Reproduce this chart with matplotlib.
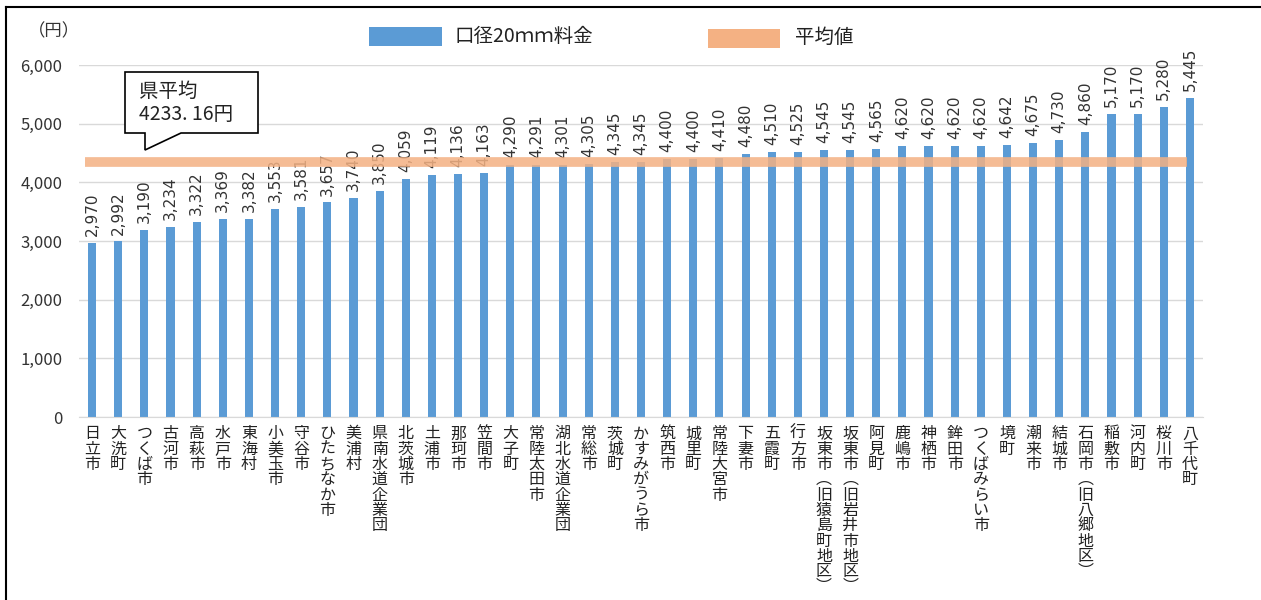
import matplotlib
matplotlib.use("Agg")
import matplotlib.pyplot as plt
from matplotlib.patches import Polygon, Rectangle
from matplotlib.lines import Line2D
import numpy as np

plt.rcParams['font.family'] = ['Noto Sans CJK JP', 'DejaVu Sans']

categories = ["日立市", "大洗町", "つくば市", "古河市", "高萩市", "水戸市", "東海村", "小美玉市",
              "守谷市", "ひたちなか市", "美浦村", "県南水道企業団", "北茨城市", "土浦市", "那珂市",
              "笠間市", "大子町", "常陸太田市", "湖北水道企業団", "常総市", "茨城町", "かすみがうら市",
              "筑西市", "城里町", "常陸大宮市", "下妻市", "五霞町", "行方市", "坂東市（旧猿島町地区）",
              "坂東市（旧岩井市地区）", "阿見町", "鹿嶋市", "神栖市", "鉾田市", "つくばみらい市", "境町",
              "潮来市", "結城市", "石岡市（旧八郷地区）", "稲敷市", "河内町", "桜川市", "八千代町"]
values = [2970, 2992, 3190, 3234, 3322, 3369, 3382, 3553, 3581, 3657, 3740, 3850, 4059, 4119,
          4136, 4163, 4290, 4291, 4301, 4305, 4345, 4345, 4400, 4400, 4410, 4480, 4510, 4525,
          4545, 4545, 4565, 4620, 4620, 4620, 4620, 4642, 4675, 4730, 4860, 5170, 5170, 5280, 5445]
average_line = 4340          # position of the drawn average line
average_label = "県平均\n4233. 16円"
series_names = ["口径20ｍｍ料金", "平均値"]
yticks = [0, 1000, 2000, 3000, 4000, 5000, 6000]

W, H = 1261, 600
fig = plt.figure(figsize=(W / 100, H / 100), dpi=100)
fig.patch.set_facecolor("white")

def fx(px):
    return px / W

def fy(py):
    return 1 - py / H

ax = fig.add_axes([fx(79), fy(417), fx(1203) - fx(79), fy(65) - fy(417)])
x = np.arange(len(categories))
blue = "#5b9bd5"
orange = "#f4b183"

ax.bar(x, values, width=0.31, color=blue, zorder=2)
ax.set_xlim(-0.5, len(categories) - 0.5)
ax.set_ylim(0, 6000)
ax.set_yticks(yticks)
ax.set_yticklabels([f"{v:,}" for v in yticks], fontsize=12, color="#333333")
ax.yaxis.grid(True, color="#d9d9d9", linewidth=1, zorder=0)
ax.set_axisbelow(True)
for s in ["top", "right", "left"]:
    ax.spines[s].set_visible(False)
ax.spines["bottom"].set_color("#d9d9d9")
ax.tick_params(axis="y", length=0, pad=12)
ax.tick_params(axis="x", length=0, pad=6)

def vert(s):
    s = s.replace("（", "\ufe35").replace("）", "\ufe36")
    return "\n".join(list(s))

ax.set_xticks(x)
ax.set_xticklabels([vert(c) for c in categories], fontsize=11.5, linespacing=0.87,
                   va="top", ha="center", color="#222222")

for xi, v in zip(x, values):
    ax.annotate(f"{v:,}", (xi, v), xytext=(0, 5), textcoords="offset points",
                rotation=90, ha="center", va="bottom", fontsize=11, color="#333333",
                family=["Liberation Sans Narrow", "DejaVu Sans"], zorder=3)

ax.hlines(average_line, -0.27, len(categories) - 1.1, color=orange, linewidth=7,
          alpha=0.85, zorder=4)

# unit label
fig.text(fx(28), fy(31), "（円）", fontsize=12.5, ha="left", va="center", color="#333333")

# legend
fig.patches.append(Rectangle((fx(369), fy(46)), fx(442) - fx(369), fy(27) - fy(46),
                             transform=fig.transFigure, facecolor=blue, edgecolor="none"))
fig.text(fx(455), fy(37), series_names[0], fontsize=14, ha="left", va="center", color="#222222")
fig.patches.append(Rectangle((fx(708), fy(48)), fx(780) - fx(708), fy(29) - fy(48),
                             transform=fig.transFigure, facecolor=orange, edgecolor="none"))
fig.text(fx(795), fy(37), series_names[1], fontsize=14, ha="left", va="center", color="#222222")

# callout
pts = [(125, 72), (258, 72), (258, 133), (181, 133), (145, 150), (145, 133), (125, 133)]
fig.patches.append(Polygon([(fx(a), fy(b)) for a, b in pts], closed=True,
                           transform=fig.transFigure, facecolor="white",
                           edgecolor="black", linewidth=1.2, zorder=5))
fig.text(fx(139), fy(103), average_label, fontsize=14, ha="left", va="center",
         linespacing=1.15, color="#222222", zorder=6)

# outer frame (top & left)
fig.lines.append(Line2D([fx(6), fx(1261)], [fy(7), fy(7)], transform=fig.transFigure,
                        color="black", linewidth=1.5))
fig.lines.append(Line2D([fx(6), fx(6)], [fy(7), fy(600)], transform=fig.transFigure,
                        color="black", linewidth=1.5))

fig.savefig("out.png", dpi=100)
